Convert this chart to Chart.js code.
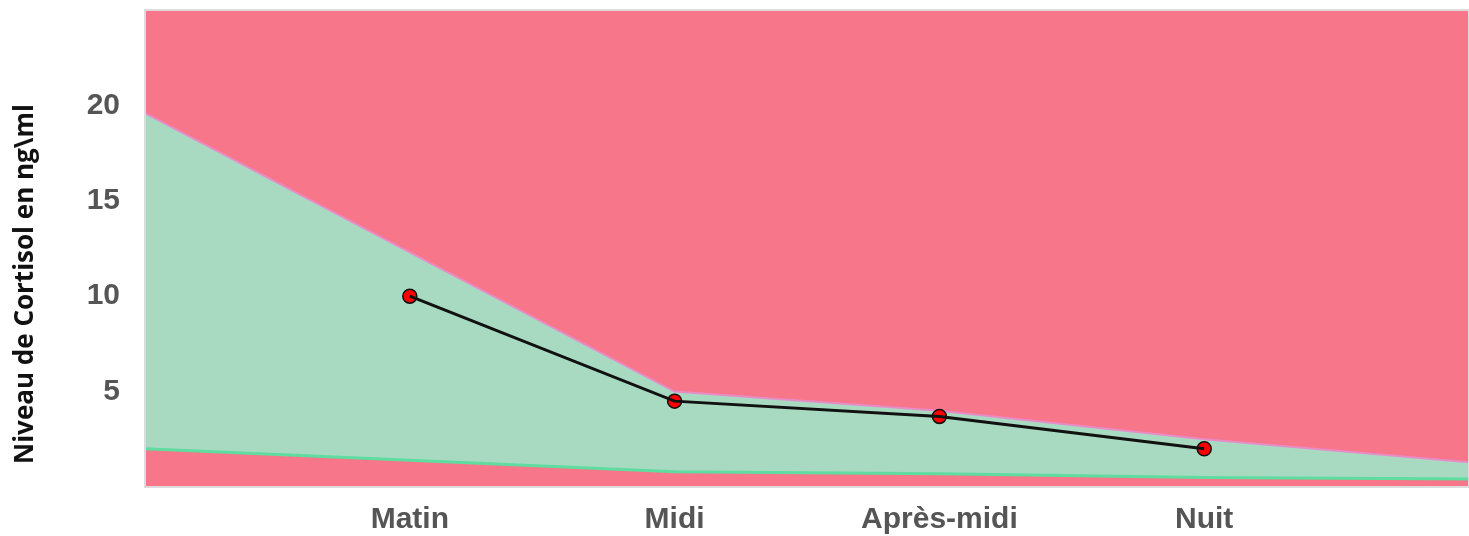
<!DOCTYPE html>
<html>
<head>
<meta charset="utf-8">
<script src="https://cdn.jsdelivr.net/npm/chart.js@4/dist/chart.umd.min.js"></script>
<style>
  html, body { margin: 0; padding: 0; background: #fff; overflow: hidden; }
  #wrap { width: 1469px; height: 536px; }
</style>
</head>
<body>
<div id="wrap"><canvas id="cortisolChart"></canvas></div>
<script>
const labels = ['', 'Matin', 'Midi', 'Après-midi', 'Nuit', ''];
const cortisol = [null, 10, 4.5, 3.7, 2, null];
const upperLimit = [19.6, 12.3, 5.0, 4.0, 2.5, 1.3];
const lowerLimit = [2.0, 1.4, 0.8, 0.7, 0.5, 0.42];
const scaleMax = [25, 25, 25, 25, 25, 25];
const yTicks = [5, 10, 15, 20];
const yTitle = 'Niveau de Cortisol en ng\\ml';

const RED = 'rgb(248,118,137)';
const GREEN = 'rgb(167,218,192)';

// light grey frame round the plot area + the rotated y title
const extras = {
  id: 'extras',
  afterDraw(chart) {
    const { ctx, chartArea: a } = chart;
    ctx.save();
    ctx.strokeStyle = '#dcdcdc';
    ctx.lineWidth = 2;
    ctx.strokeRect(a.left, a.top, a.right - a.left, a.bottom - a.top);
    ctx.translate(26, 284);
    ctx.rotate(-Math.PI / 2);
    ctx.fillStyle = '#111';
    ctx.font = 'bold 26px "Open Sans"';
    ctx.textAlign = 'center';
    ctx.textBaseline = 'middle';
    ctx.fillText(yTitle, 0, 0);
    ctx.restore();
  },
};

const ctx = document.getElementById('cortisolChart').getContext('2d');
new Chart(ctx, {
  type: 'line',
  data: {
    labels,
    datasets: [
      {
        label: 'Cortisol',
        data: cortisol,
        order: 0,
        borderColor: '#111',
        borderWidth: 3,
        tension: 0,
        fill: false,
        pointRadius: 0,
      },
      {
        label: 'Cortisol points',
        data: cortisol,
        order: 0.5,
        showLine: false,
        fill: false,
        pointRadius: 7,
        pointBackgroundColor: '#ff0000',
        pointBorderColor: '#111',
        pointBorderWidth: 1.5,
      },
      {
        label: 'Min',
        data: lowerLimit,
        order: 1,
        borderColor: 'rgb(95,220,160)',
        borderWidth: 3,
        backgroundColor: RED,
        fill: 'origin',
        pointRadius: 0,
        tension: 0,
      },
      {
        label: 'Max',
        data: upperLimit,
        order: 2,
        borderColor: 'rgb(232,140,200)',
        borderWidth: 2,
        backgroundColor: GREEN,
        fill: 'origin',
        pointRadius: 0,
        tension: 0,
      },
      {
        label: 'Fond',
        data: scaleMax,
        order: 3,
        borderWidth: 0,
        borderColor: RED,
        backgroundColor: RED,
        fill: 'origin',
        pointRadius: 0,
      },
    ],
  },
  options: {
    responsive: true,
    maintainAspectRatio: false,
    animation: false,
    layout: { autoPadding: false, padding: { top: 10, right: 0, left: 0, bottom: 0 } },
    plugins: { legend: { display: false }, tooltip: { enabled: false } },
    scales: {
      x: {
        offset: false,
        afterFit: (scale) => {
          scale.height = 49;
          scale.paddingLeft = 0;
          scale.paddingRight = 0;
        },
        grid: { display: false, drawTicks: false },
        border: { display: false },
        ticks: {
          autoSkip: false,
          maxRotation: 0,
          padding: 15,
          color: '#555',
          font: { family: 'Liberation Sans', size: 30, weight: 'bold' },
        },
      },
      y: {
        min: 0,
        max: 25,
        afterFit: (scale) => {
          scale.width = 145;
          scale.paddingTop = 0;
          scale.paddingBottom = 0;
        },
        afterBuildTicks: (scale) => { scale.ticks = yTicks.map((v) => ({ value: v })); },
        grid: { display: false, drawTicks: false },
        border: { display: false },
        ticks: {
          padding: 25,
          color: '#555',
          font: { family: 'Liberation Sans', size: 30, weight: 'bold' },
        },
      },
    },
  },
  plugins: [extras],
});
</script>
</body>
</html>
